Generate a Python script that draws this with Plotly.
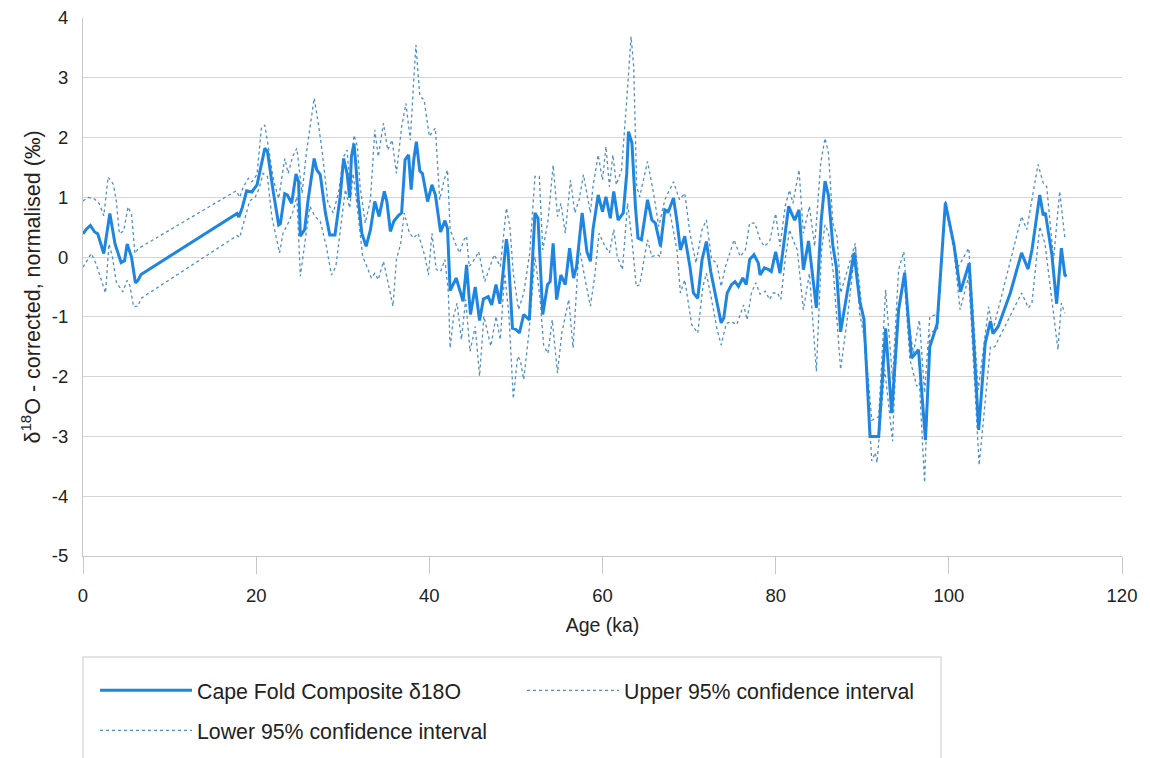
import plotly.graph_objects as go

# ---------------- data ----------------
main_age = [0.0, 0.4, 0.85, 1.35, 1.7, 2.4, 3.1, 3.7, 4.4, 4.8, 5.1, 5.6, 6.05, 6.35, 6.7,
            17.8, 18.0, 18.4, 18.9, 19.5, 20.1, 20.6, 21.0, 21.3, 21.6, 22.0, 22.6, 22.8,
            23.3, 23.6, 24.1, 24.6, 24.9, 25.1, 25.6, 26.0, 26.7, 27.0, 27.4, 28.0, 28.5,
            29.1, 29.7, 30.1, 30.5, 30.8, 31.0, 31.3, 31.5, 31.8, 32.2, 32.7, 33.2, 33.7,
            34.2, 34.8, 35.1, 35.5, 35.9, 36.4, 36.8, 37.2, 37.6, 37.9, 38.2, 38.5, 38.9,
            39.2, 39.8, 40.3, 40.7, 41.3, 41.8, 42.1, 42.4, 43.1, 43.9, 44.3, 44.75, 45.3,
            45.8, 46.25, 46.8, 47.2, 47.7, 48.15, 48.9, 49.1, 49.6, 50.0, 50.4, 50.9, 51.55,
            52.2, 52.55, 53.1, 53.65, 53.95, 54.3, 54.7, 55.2, 55.7, 56.2, 56.65, 57.0,
            57.65, 58.2, 58.6, 58.9, 59.5, 60.0, 60.4, 60.9, 61.3, 61.8, 62.4, 62.8, 63.0,
            63.4, 63.8, 64.1, 64.5, 65.2, 65.7, 66.1, 66.7, 67.2, 67.6, 68.2, 68.6, 69.0,
            69.5, 70.1, 70.5, 71.0, 71.5, 72.0, 72.5, 73.0, 73.7, 74.0, 74.4, 74.9, 75.3,
            75.7, 76.2, 76.6, 77.0, 77.5, 78.0, 78.2, 78.7, 79.2, 79.5, 80.0, 80.5, 81.0,
            81.5, 81.9, 82.2, 82.7, 83.2, 83.8, 84.7, 85.25, 85.7, 86.1, 86.6, 87.0, 87.5,
            88.25, 89.05, 89.7, 90.2, 90.9, 91.9, 92.7, 93.4, 94.2, 94.9, 95.3, 95.7, 96.5,
            97.3, 97.8, 98.65, 99.6, 100.6, 101.35, 102.35, 102.8, 103.45, 104.2, 104.8,
            105.1, 105.7, 107.1, 108.4, 109.15, 109.6, 110.5, 110.9, 111.15, 111.9, 112.45,
            113.0, 113.4, 113.6]
main_val = [0.39, 0.47, 0.53, 0.42, 0.39, 0.06, 0.73, 0.22, -0.09, -0.06, 0.22, 0.0, -0.43, -0.39, -0.29,
            0.73, 0.67, 0.83, 1.11, 1.09, 1.21, 1.54, 1.82, 1.77, 1.46, 1.07, 0.54, 0.56,
            1.06, 1.04, 0.9, 1.39, 1.26, 0.35, 0.46, 0.96, 1.65, 1.46, 1.38, 0.74, 0.37,
            0.37, 1.01, 1.65, 1.4, 0.99, 1.68, 1.9, 1.57, 0.96, 0.4, 0.18, 0.46, 0.93,
            0.68, 1.1, 0.93, 0.43, 0.6, 0.69, 0.74, 1.63, 1.71, 1.13, 1.63, 1.93, 1.44,
            1.4, 0.93, 1.21, 1.04, 0.42, 0.61, 0.48, -0.56, -0.35, -0.74, -0.13, -0.96, -0.5,
            -1.06, -0.7, -0.66, -0.8, -0.46, -0.78, 0.3, 0.08, -1.19, -1.21, -1.27, -0.96, -1.05,
            0.74, 0.65, -0.96, -0.46, -0.41, 0.23, -0.71, -0.3, -0.46, 0.15, -0.35, -0.16,
            0.74, 0.09, -0.07, 0.46, 1.04, 0.76, 1.01, 0.65, 1.1, 0.62, 0.74, 1.4, 2.1,
            1.91, 0.85, 0.32, 0.29, 0.96, 0.62, 0.57, 0.18, 0.79, 0.76, 0.99, 0.6, 0.12,
            0.35, -0.16, -0.6, -0.69, -0.04, 0.26, -0.24, -0.6, -1.1, -1.02, -0.6, -0.46, -0.41,
            -0.49, -0.35, -0.46, -0.04, 0.04, -0.1, -0.3, -0.18, -0.21, -0.24, 0.09, -0.27, 0.29,
            0.85, 0.71, 0.62, 0.79, -0.21, 0.27, -0.85, 0.6, 1.27, 1.03, 0.2, -0.16, -1.25,
            -0.6, 0.07, -0.73, -1.04, -3.0, -3.0, -1.19, -2.61, -0.88, -0.26, -0.99, -1.69, -1.55,
            -3.06, -1.5, -1.12, 0.91, 0.2, -0.58, -0.1, -1.22, -2.89, -1.44, -1.07,
            -1.28, -1.16, -0.6, 0.07, -0.2, 0.12, 1.04, 0.7, 0.74, 0.04, -0.78,
            0.15, -0.3, -0.32]

upper_age = [0.0, 0.58, 1.35, 1.9, 2.4, 2.9, 3.5, 3.85, 4.2, 4.7, 5.2, 5.6, 6.0, 6.35,
             17.7, 18.1, 18.5, 19.1, 19.5, 20.1, 20.6, 21.0, 21.4, 22.0, 22.6, 23.3, 23.7,
             24.2, 24.7, 25.3, 25.8, 26.7, 27.2, 27.6, 28.3, 28.9, 29.5, 30.1, 30.5, 30.8,
             31.3, 31.7, 32.0, 32.6, 33.2, 33.7, 34.1, 34.7, 35.2, 35.7, 36.2, 36.8, 37.3,
             37.8, 38.2, 38.45, 38.9, 39.4, 40.0, 40.7, 41.2, 41.7, 42.1, 42.4, 43.0, 43.5,
             44.0, 44.3, 44.6, 45.2, 45.7, 46.0, 46.4, 47.0, 47.5, 48.2, 48.9, 49.3, 49.7,
             50.3, 50.9, 51.6, 52.2, 52.7, 53.1, 53.7, 54.3, 54.8, 55.2, 55.7, 56.3, 56.8,
             57.3, 57.8, 58.6, 58.9, 59.5, 60.0, 60.4, 60.8, 61.2, 61.6, 62.2, 62.8, 63.3,
             63.6, 63.95, 64.3, 65.2, 65.9, 66.5, 67.2, 68.2, 68.9, 69.5, 70.1, 70.8, 71.5,
             72.0, 72.6, 73.2, 73.7, 74.2, 75.2, 75.9, 76.5, 77.0, 77.6, 78.2, 78.7, 79.3,
             80.0, 80.5, 81.1, 81.6, 82.0, 82.7, 83.2, 83.9, 84.5, 85.2, 85.7, 86.1, 86.6,
             87.1, 87.5, 88.4, 89.2, 89.7, 90.3, 91.1, 91.9, 92.7, 93.5, 94.2, 94.8, 95.3,
             95.9, 96.6, 97.2, 97.8, 98.7, 99.6, 100.6, 101.1, 102.3, 103.4, 104.6, 105.1,
             108.4, 109.0, 110.3, 110.9, 111.3, 112.1, 112.8, 113.4]
upper_val = [0.94, 1.0, 0.97, 0.89, 0.69, 1.34, 1.22, 0.94, 0.39, 0.44, 0.84, 0.72, 0.06, 0.14,
             1.11, 1.0, 1.17, 1.32, 1.26, 1.38, 2.16, 2.21, 1.85, 1.29, 0.98, 1.65, 1.4,
             1.68, 1.82, 1.07, 1.74, 2.66, 2.21, 1.79, 0.9, 0.74, 1.07, 1.68, 1.79, 1.24,
             2.04, 1.85, 1.18, 0.57, 0.96, 2.13, 1.68, 2.24, 1.79, 1.96, 1.4, 2.18, 2.57,
             1.96, 2.96, 3.55, 2.69, 2.63, 2.02, 2.16, 0.96, 1.29, 1.46, 0.46, 0.23, 0.07,
             0.29, 0.35, -0.16, -0.04, 0.09, -0.1, -0.41, -0.16, 0.04, -0.16, 0.82, 0.51, -0.27,
             -0.88, -0.6, 0.07, 1.35, 1.35, 0.12, 0.6, 1.54, 0.68, 0.9, 0.4, 1.29, 0.74,
             0.96, 1.38, 0.74, 1.18, 1.71, 1.29, 1.85, 1.18, 1.71, 1.21, 1.46, 2.63, 3.69,
             3.19, 1.18, 1.01, 1.6, 1.07, 0.51, 0.96, 1.26, 0.96, 1.07, 0.4, -0.1, 0.46,
             0.62, -0.04, -0.1, -0.49, -0.16, 0.29, 0.01, 0.12, 0.57, 0.57, 0.29, 0.18, 0.26,
             0.73, 0.18, 0.85, 1.12, 0.9, 1.46, 0.4, 0.85, 0.18, 1.57, 1.99, 1.74, 0.57,
             0.34, -0.6, -0.16, 0.23, -0.94, -1.39, -2.73, -2.67, -0.55, -2.05, -0.21, 0.09, -1.0,
             -1.61, -1.05, -2.27, -1.0, -0.95, 0.95, 0.25, -0.16, 0.15, -2.22, -0.83, -1.22,
             0.68, 0.46, 1.55, 1.24, 1.18, -0.04, 1.1, 0.32]

lower_age = [0.0, 0.96, 1.5, 2.1, 2.6, 3.0, 3.4, 3.85, 4.6, 5.1, 5.4, 5.85, 6.35, 6.7,
             17.8, 18.1, 18.7, 19.25, 19.9, 20.3, 20.8, 21.3, 21.8, 22.7, 23.1, 23.7, 24.2,
             24.7, 25.1, 25.6, 26.2, 26.8, 27.4, 28.1, 28.7, 29.2, 29.7, 30.3, 30.8, 31.2,
             31.8, 32.3, 32.8, 33.3, 33.7, 34.1, 34.7, 35.2, 35.8, 36.2, 36.7, 37.1, 37.7,
             38.2, 38.7, 39.5, 39.9, 40.3, 40.8, 41.3, 41.8, 42.2, 42.4, 42.8, 43.2, 43.7,
             44.2, 44.7, 45.3, 45.8, 46.3, 47.1, 47.7, 48.2, 48.7, 49.2, 49.7, 50.2, 50.5,
             50.9, 51.5, 52.2, 52.8, 53.2, 53.7, 54.2, 54.8, 55.3, 56.1, 56.6, 57.3, 58.0,
             58.6, 59.1, 59.6, 60.3, 60.8, 61.3, 61.7, 62.3, 62.9, 63.4, 63.9, 64.3, 65.2,
             65.7, 66.3, 66.7, 67.1, 67.8, 68.6, 69.0, 69.5, 70.3, 71.0, 71.6, 72.0, 72.6,
             73.2, 73.7, 74.3, 74.9, 75.5, 76.3, 76.7, 77.2, 77.7, 78.2, 78.8, 79.3, 79.7,
             80.2, 80.6, 81.1, 81.6, 82.0, 82.5, 83.2, 83.9, 84.7, 85.3, 85.7, 86.1, 86.7,
             87.5, 88.3, 89.2, 89.7, 90.2, 91.1, 91.5, 91.7, 92.6, 93.5, 94.1, 94.8, 95.5,
             96.3, 96.6, 97.2, 97.8, 98.7, 99.6, 100.6, 101.3, 102.3, 103.5, 104.8, 105.3,
             108.4, 109.2, 109.6, 110.5, 111.1, 111.9, 112.6, 113.0, 113.4]
lower_val = [-0.17, 0.06, -0.11, -0.39, -0.6, 0.22, 0.0, -0.42, -0.58, -0.39, -0.47, -0.83, -0.82, -0.69,
             0.36, 0.33, 0.67, 0.94, 1.01, 1.13, 1.4, 1.35, 0.68, 0.07, 0.4, 0.57, 0.74,
             1.01, -0.32, 0.18, 0.85, 0.68, 0.6, 0.18, -0.3, -0.16, 0.46, 1.13, 0.82, 1.4,
             0.68, 0.01, -0.16, -0.35, -0.27, -0.38, -0.07, -0.43, -0.82, -0.04, 0.23, 0.74, 0.4,
             0.32, 0.4, 0.01, -0.3, 0.4, -0.21, -0.24, -0.04, -0.6, -1.52, -0.99, -0.77, -1.38,
             -0.71, -1.58, -1.16, -1.99, -0.99, -1.49, -0.99, -1.38, -0.27, -0.99, -2.37, -1.66, -1.72,
             -2.05, -1.27, 0.01, -0.71, -1.47, -1.61, -1.05, -1.94, -1.27, -0.71, -1.52, 0.18, -0.38,
             -0.82, -0.32, 0.4, 0.18, 0.07, 0.46, 0.01, -0.21, 0.9, 0.29, -0.49, -0.46, 0.29,
             0.01, 0.04, 0.01, 0.74, 0.74, 0.12, -0.6, -0.38, -1.13, -1.27, -0.49, -0.27, -0.71,
             -1.19, -1.47, -1.11, -1.08, -1.13, -0.8, -1.05, -0.6, -0.43, -0.62, -0.57, -0.71, -0.6,
             -0.6, -0.71, -0.04, 0.46, 0.29, 0.12, -0.88, -0.27, -1.91, 0.12, 0.54, 0.4, -0.32,
             -1.88, -1.0, 0.18, -0.49, -1.27, -3.41, -3.27, -3.44, -1.88, -3.08, -0.93, -0.27, -1.71,
             -2.16, -2.1, -3.77, -1.27, -1.2, 0.87, 0.1, -0.88, -0.32, -3.48, -1.5, -1.5,
             -0.6, -0.85, -0.77, 0.51, 0.23, -0.77, -1.55, -0.77, -0.94]

x_ticks = [0, 20, 40, 60, 80, 100, 120]
y_ticks = [-5, -4, -3, -2, -1, 0, 1, 2, 3, 4]
y_tick_labels = ["-5", "-4", "-3", "-2", "-1", "0", "1", "2", "3", "4"]

# ---------------- figure ----------------
MAIN_COLOR = "#1E86E0"
CI_COLOR = "#4F8FC6"
FONT = "Liberation Sans, Arial, sans-serif"

fig = go.Figure()
fig.add_trace(go.Scatter(x=upper_age, y=upper_val, mode="lines",
                         name="Upper 95% confidence interval",
                         line=dict(color=CI_COLOR, width=1.3, dash="dot"),
                         legend="legend", legendrank=2))
fig.add_trace(go.Scatter(x=lower_age, y=lower_val, mode="lines",
                         name="Lower 95% confidence interval",
                         line=dict(color=CI_COLOR, width=1.3, dash="dot"),
                         legend="legend2"))
fig.add_trace(go.Scatter(x=main_age, y=main_val, mode="lines",
                         name="Cape Fold Composite δ18O",
                         line=dict(color=MAIN_COLOR, width=3),
                         legend="legend", legendrank=1))

W, H = 1150, 758
L, R, T, B = 83, 28, 18, 202
pw, ph = W - L - R, H - T - B

def px_x(p):
    return (p - L) / pw

def px_y(p):
    return (H - B - p) / ph

fig.update_layout(
    width=W, height=H,
    margin=dict(l=L, r=R, t=T, b=B, autoexpand=False),
    paper_bgcolor="white", plot_bgcolor="white",
    font=dict(family=FONT, size=19, color="#222222"),
    xaxis=dict(range=[0, 120], tickvals=x_ticks, showgrid=False, zeroline=False,
               showline=True, linecolor="#C8C8C8", linewidth=1,
               ticks="outside", ticklen=17, tickcolor="#C8C8C8", tickwidth=1,
               ticklabelstandoff=6,
               tickfont=dict(size=18.5, color="#222222"),
               title=dict(text="Age (ka)", font=dict(size=19.5), standoff=13)),
    yaxis=dict(range=[-5, 4], tickvals=y_ticks, ticktext=y_tick_labels,
               showgrid=True, gridcolor="#D6D6D6",
               gridwidth=1, zeroline=False, showline=True, linecolor="#C8C8C8",
               linewidth=1, ticks="", ticklabelstandoff=10,
               tickfont=dict(size=18.5, color="#222222"),
               title=dict(text="δ<sup>18</sup>O - corrected, normalised (‰)",
                          font=dict(size=21.5), standoff=5)),
    legend=dict(orientation="h", x=px_x(95), y=px_y(670), xanchor="left", yanchor="top",
                itemwidth=92, entrywidth=320, bgcolor="rgba(0,0,0,0)",
                font=dict(size=21.3, color="#222222"), traceorder="normal"),
    legend2=dict(orientation="h", x=px_x(95), y=px_y(710), xanchor="left", yanchor="top",
                 itemwidth=92, bgcolor="rgba(0,0,0,0)",
                 font=dict(size=21.3, color="#222222")),
    shapes=[dict(type="rect", xref="paper", yref="paper",
                 x0=px_x(83), x1=px_x(941), y0=px_y(657), y1=px_y(780),
                 line=dict(color="#C8C8C8", width=1), fillcolor="rgba(0,0,0,0)")],
    showlegend=True,
)

fig.write_html("out.html")
